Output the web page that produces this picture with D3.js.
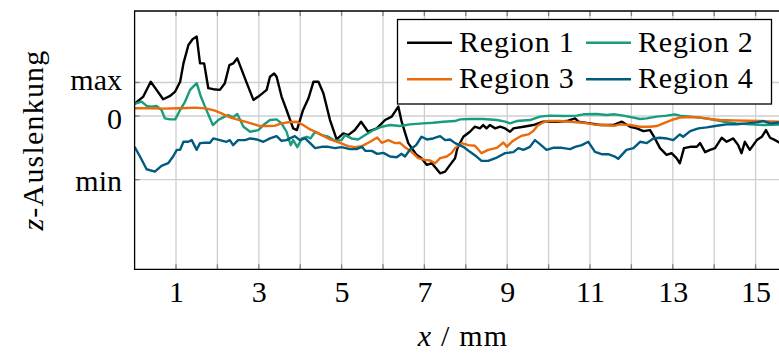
<!DOCTYPE html>
<html>
<head>
<meta charset="utf-8">
<script src="https://cdn.jsdelivr.net/npm/d3@7"></script>
<style>
  body { margin: 0; background: #fff; }
  text { font-family: "Liberation Serif", "DejaVu Serif", serif; fill: #000; }
</style>
</head>
<body>
<script>
// z-deflection profiles, x in mm, z normalised (max = 1, min = -1.9)
var region1 = [[0,0.36],[0.21,0.58],[0.39,1.02],[0.53,0.78],[0.69,0.5],[0.86,0.6],[0.98,0.73],[1.1,1.02],[1.18,1.57],[1.3,2.12],[1.4,2.29],[1.5,2.37],[1.58,1.57],[1.68,1.57],[1.78,0.83],[1.9,0.8],[2.06,0.78],[2.18,0.98],[2.29,1.52],[2.38,1.57],[2.48,1.72],[2.59,1.37],[2.71,0.98],[2.87,0.48],[2.99,0.58],[3.19,0.78],[3.27,1.17],[3.37,1.27],[3.43,1.17],[3.55,0.58],[3.67,0.18],[3.83,-0.37],[3.92,-0.42],[4.07,0.18],[4.2,0.53],[4.32,1.02],[4.44,1.02],[4.56,0.68],[4.72,-0.12],[4.88,-0.7],[5.04,-0.52],[5.16,-0.57],[5.32,-0.42],[5.47,-0.17],[5.64,-0.47],[5.85,-0.37],[6.05,-0.12],[6.21,-0.02],[6.37,0.28],[6.45,-0.17],[6.61,-0.81],[6.81,-1.16],[6.93,-1.26],[7.06,-1.46],[7.18,-1.41],[7.38,-1.71],[7.5,-1.66],[7.62,-1.46],[7.74,-1.26],[7.8,-0.95],[7.94,-0.62],[8.1,-0.47],[8.22,-0.32],[8.34,-0.37],[8.42,-0.27],[8.5,-0.37],[8.58,-0.27],[8.71,-0.37],[8.83,-0.32],[8.95,-0.37],[9.07,-0.47],[9.15,-0.37],[9.39,-0.32],[9.63,-0.27],[9.87,-0.17],[10.2,-0.17],[10.44,-0.15],[10.64,-0.07],[10.72,-0.17],[11,-0.22],[11.24,-0.27],[11.56,-0.27],[11.77,-0.17],[11.97,-0.32],[12.13,-0.37],[12.29,-0.45],[12.45,-0.42],[12.57,-0.67],[12.69,-0.96],[12.85,-1.16],[12.97,-1.11],[13.09,-1.26],[13.17,-1.41],[13.27,-0.96],[13.42,-0.92],[13.58,-0.92],[13.66,-0.81],[13.78,-1.08],[13.9,-1.01],[14.02,-0.96],[14.18,-0.65],[14.3,-0.77],[14.46,-0.67],[14.58,-0.87],[14.66,-1.11],[14.74,-0.77],[14.86,-1.01],[15.03,-0.72],[15.15,-0.62],[15.25,-0.42],[15.35,-0.65],[15.47,-0.72],[15.6,-0.81]];

var region2 = [[0,0.36],[0.17,0.43],[0.29,0.3],[0.41,0.28],[0.53,0.3],[0.65,0.18],[0.73,-0.07],[0.86,-0.1],[0.98,-0.1],[1.1,0.18],[1.22,0.43],[1.34,0.78],[1.5,0.98],[1.6,0.58],[1.7,0.28],[1.89,-0.27],[2.02,-0.12],[2.14,-0.04],[2.26,0.03],[2.38,-0.04],[2.48,0.06],[2.63,-0.32],[2.79,-0.47],[2.99,-0.42],[3.11,-0.27],[3.27,-0.12],[3.43,-0.1],[3.55,-0.22],[3.67,-0.47],[3.77,-0.87],[3.83,-0.72],[3.93,-0.93],[4.04,-0.67],[4.16,-0.62],[4.25,-0.67],[4.36,-0.47],[4.52,-0.57],[4.68,-0.62],[4.84,-0.74],[5,-0.72],[5.08,-0.57],[5.24,-0.67],[5.4,-0.7],[5.57,-0.57],[5.77,-0.42],[5.97,-0.32],[6.17,-0.27],[6.41,-0.3],[6.65,-0.25],[6.97,-0.22],[7.21,-0.2],[7.46,-0.17],[7.74,-0.15],[7.86,-0.1],[8.1,-0.09],[8.42,-0.09],[8.75,-0.12],[8.95,-0.17],[9.07,-0.22],[9.23,-0.15],[9.55,-0.12],[9.79,-0.02],[10.03,0.01],[10.36,0],[10.68,0.01],[10.84,0.05],[11.16,0.06],[11.4,0.03],[11.6,0.05],[11.8,0.01],[12.05,-0.05],[12.21,-0.09],[12.37,-0.07],[12.61,-0.02],[12.85,0.01],[13.05,0.05],[13.17,0.01],[13.42,-0.02],[13.66,-0.05],[13.9,-0.09],[14.22,-0.17],[14.54,-0.22],[14.86,-0.25],[15.19,-0.27],[15.6,-0.25]];

var region3 = [[0,0.23],[0.37,0.23],[0.69,0.22],[1.1,0.23],[1.5,0.25],[1.74,0.22],[1.94,0.16],[2.1,0.08],[2.3,-0.04],[2.47,-0.1],[2.67,-0.17],[2.87,-0.24],[3.03,-0.3],[3.19,-0.3],[3.39,-0.29],[3.55,-0.22],[3.75,-0.18],[3.92,-0.17],[4.07,-0.27],[4.24,-0.4],[4.48,-0.54],[4.72,-0.7],[4.96,-0.8],[5.16,-0.9],[5.32,-0.93],[5.49,-0.9],[5.69,-0.77],[5.86,-0.64],[5.97,-0.8],[6.13,-0.72],[6.29,-0.81],[6.41,-0.8],[6.53,-0.93],[6.69,-1.07],[6.85,-1.26],[7.01,-1.31],[7.14,-1.33],[7.26,-1.41],[7.38,-1.26],[7.54,-1.21],[7.66,-1.1],[7.74,-0.96],[7.9,-0.81],[8.06,-0.87],[8.22,-0.89],[8.38,-1.11],[8.54,-1.01],[8.75,-0.95],[8.91,-0.79],[8.99,-0.92],[9.11,-0.77],[9.23,-0.67],[9.35,-0.59],[9.51,-0.55],[9.63,-0.45],[9.73,-0.29],[9.87,-0.19],[10.03,-0.15],[10.28,-0.15],[10.52,-0.17],[10.84,-0.2],[11.08,-0.25],[11.32,-0.27],[11.6,-0.29],[11.72,-0.25],[11.97,-0.27],[12.21,-0.32],[12.45,-0.32],[12.61,-0.3],[12.77,-0.22],[12.97,-0.12],[13.17,-0.05],[13.42,-0.03],[13.66,-0.05],[13.9,-0.09],[14.14,-0.12],[14.46,-0.13],[14.79,-0.14],[15.11,-0.15],[15.6,-0.17]];

var region4 = [[0,-0.92],[0.13,-1.21],[0.29,-1.59],[0.49,-1.66],[0.65,-1.49],[0.81,-1.41],[0.93,-1.21],[1.02,-1.01],[1.1,-1.01],[1.18,-0.77],[1.3,-0.77],[1.38,-0.72],[1.5,-1.01],[1.58,-0.81],[1.7,-0.8],[1.82,-0.8],[1.9,-0.67],[2.06,-0.72],[2.22,-0.77],[2.3,-0.72],[2.38,-0.87],[2.5,-0.72],[2.67,-0.72],[2.79,-0.67],[2.95,-0.7],[3.11,-0.77],[3.27,-0.67],[3.43,-0.6],[3.55,-0.74],[3.67,-0.72],[3.75,-0.67],[3.87,-0.6],[3.99,-0.72],[4.12,-0.67],[4.24,-0.81],[4.36,-0.96],[4.52,-0.92],[4.68,-0.92],[4.84,-0.96],[5,-0.93],[5.2,-0.99],[5.36,-0.99],[5.49,-0.92],[5.57,-1.04],[5.73,-1.04],[5.86,-1.13],[6.01,-1.1],[6.17,-1.21],[6.33,-1.23],[6.45,-1.13],[6.53,-1.21],[6.65,-1.01],[6.8,-0.87],[6.93,-0.62],[7.06,-0.7],[7.21,-0.67],[7.38,-0.6],[7.5,-0.72],[7.62,-0.7],[7.74,-0.81],[7.94,-0.92],[8.1,-1.07],[8.26,-1.21],[8.38,-1.34],[8.54,-1.34],[8.75,-1.24],[8.95,-1.11],[9.15,-1.08],[9.27,-0.96],[9.39,-1.01],[9.55,-0.92],[9.67,-0.72],[9.79,-0.84],[9.95,-1.01],[10.11,-0.95],[10.32,-0.95],[10.52,-0.99],[10.64,-0.92],[10.8,-0.87],[10.96,-0.77],[11.12,-1.07],[11.28,-1.14],[11.44,-1.14],[11.6,-1.21],[11.68,-1.28],[11.88,-1.01],[12.05,-0.96],[12.21,-0.77],[12.37,-0.81],[12.53,-0.67],[12.69,-0.65],[12.85,-0.67],[13.01,-0.72],[13.17,-0.55],[13.25,-0.62],[13.42,-0.45],[13.62,-0.37],[13.82,-0.34],[14.06,-0.29],[14.3,-0.25],[14.54,-0.25],[14.79,-0.22],[15.03,-0.19],[15.19,-0.15],[15.35,-0.22],[15.6,-0.19]];

var seriesNames = ["Region 1", "Region 2", "Region 3", "Region 4"];
var seriesColors = ["#000000", "#179c7d", "#eb6a0a", "#005b7f"];
var xTickValues = [1, 3, 5, 7, 9, 11, 13, 15];
var xGridValues = d3.range(1, 16);
var yTickValues = [1, 0, -1.9];
var yTickLabels = ["max", "0", "min"];

var W = 779, H = 356;
var plotLeft = 134.6, plotTop = 11, plotBottom = 269.3;

var svg = d3.select("body").append("svg")
    .attr("width", W).attr("height", H);

var x = d3.scaleLinear().domain([0, 16]).range([plotLeft, plotLeft + 16 * 41.4]);
var y = d3.scaleLinear().domain([-4.576, 3.134]).range([plotBottom, plotTop]);

svg.append("defs").append("clipPath").attr("id", "plot")
    .append("rect").attr("x", plotLeft).attr("y", plotTop)
    .attr("width", W - plotLeft).attr("height", plotBottom - plotTop);

//grid
var grid = svg.append("g").attr("stroke", "#cfcfcf").attr("stroke-width", 1.3);
grid.selectAll(".vg").data(xGridValues).enter().append("line")
    .attr("x1", d => x(d)).attr("x2", d => x(d))
    .attr("y1", plotTop).attr("y2", plotBottom);
grid.selectAll(".hg").data(yTickValues).enter().append("line")
    .attr("x1", plotLeft).attr("x2", W)
    .attr("y1", d => y(d)).attr("y2", d => y(d));

//small inner ticks
var ticks = svg.append("g").attr("stroke", "#808080").attr("stroke-width", 1.3);
xGridValues.forEach(function(d){
    ticks.append("line").attr("x1", x(d)).attr("x2", x(d)).attr("y1", plotBottom).attr("y2", plotBottom - 5);
    ticks.append("line").attr("x1", x(d)).attr("x2", x(d)).attr("y1", plotTop).attr("y2", plotTop + 5);
});
yTickValues.forEach(function(d){
    ticks.append("line").attr("x1", plotLeft).attr("x2", plotLeft + 5).attr("y1", y(d)).attr("y2", y(d));
});

//lines
var line = d3.line().x(d => x(d[0])).y(d => y(d[1]));
var lines = svg.append("g").attr("clip-path", "url(#plot)");
[region1, region2, region3, region4].forEach(function(s, i){
    lines.append("path").datum(s)
        .attr("d", line)
        .attr("fill", "none")
        .attr("stroke", seriesColors[i])
        .attr("stroke-width", 2.4)
        .attr("stroke-linejoin", "round");
});

//frame
svg.append("path")
    .attr("d", "M" + (W + 2) + "," + plotTop + "H" + plotLeft + "V" + plotBottom + "H" + (W + 2))
    .attr("fill", "none").attr("stroke", "#000").attr("stroke-width", 1.3);

//x axis labels
var xAxis = d3.axisBottom(x).tickValues(xTickValues).tickSize(0).tickPadding(0);
var gx = svg.append("g").attr("transform", "translate(0," + plotBottom + ")").call(xAxis);
gx.select(".domain").remove();
gx.selectAll("text").attr("font-family", "Liberation Serif").attr("font-size", 30)
    .attr("y", 33).attr("dy", 0);

//y axis labels
var yAxis = d3.axisLeft(y).tickValues(yTickValues)
    .tickFormat((d, i) => yTickLabels[i]).tickSize(0).tickPadding(0);
var gy = svg.append("g").attr("transform", "translate(" + 122 + ",0)").call(yAxis);
gy.select(".domain").remove();
var yDy = [7.5, 12.3, 10.5];
gy.selectAll("text").attr("font-family", "Liberation Serif").attr("font-size", 30)
    .attr("x", 0).attr("dy", (d, i) => yDy[i]);

//axis titles
var xt = svg.append("text").attr("x", 463).attr("y", 346)
    .attr("text-anchor", "middle").attr("font-size", 30).attr("letter-spacing", 1.2);
xt.append("tspan").attr("font-style", "italic").text("x");
xt.append("tspan").text(" / mm");

var yt = svg.append("text")
    .attr("transform", "translate(43,140) rotate(-90)")
    .attr("text-anchor", "middle").attr("font-size", 30).attr("letter-spacing", 1.2);
yt.append("tspan").attr("font-style", "italic").text("z");
yt.append("tspan").text("-Auslenkung");

//legend
var legend = svg.append("g");
legend.append("rect").attr("x", 397.5).attr("y", 19.5).attr("width", 374).attr("height", 84.5)
    .attr("fill", "#fff").attr("stroke", "#000").attr("stroke-width", 1.3);
var legCols = [407, 586];
var legRows = [42.7, 79.3];
seriesNames.forEach(function(name, i){
    var cx = legCols[i % 2], cy = legRows[Math.floor(i / 2)];
    legend.append("line").attr("x1", cx).attr("x2", cx + 45).attr("y1", cy).attr("y2", cy)
        .attr("stroke", seriesColors[i]).attr("stroke-width", 2.4);
    legend.append("text").attr("x", cx + 52).attr("y", cy + 9)
        .attr("font-size", 30).attr("letter-spacing", 0.8).text(name);
});
</script>
</body>
</html>
